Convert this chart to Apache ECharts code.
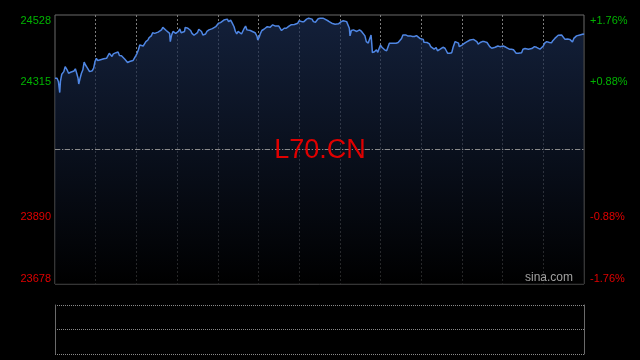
<!DOCTYPE html>
<html>
<head>
<meta charset="utf-8">
<script src="https://cdn.jsdelivr.net/npm/echarts@6/dist/echarts.min.js"></script>
<style>html,body{margin:0;padding:0;background:#000;}#c{width:640px;height:360px;}</style>
</head>
<body>
<div id="c"></div>
<script>
const symbolName = 'L70.CN';
const prevClose = 24103;
const yMin = 23678, yMax = 24528;
const leftTickLabels = ['23678', '23890', '', '24315', '24528'];
const rightTickLabels = ['-1.76%', '-0.88%', '', '+0.88%', '+1.76%'];
const minutes = [0,2,3,5,7,8,10,13,15,18,20,23,25,28,30,32,34,35,37,39,41,43,45,47,49,51,53,55,57,59,61,63,66,68,72,76,78,80,82,84,86,88,90,93,95,98,100,103,105,107,110,112,115,117,119,121,123,125,127,130,132,134,137,139,142,144,147,149,152,154,157,159,161,164,166,169,170,172,174,176,178,180,182,184,186,188,191,
192,196,200,202,205,207,210,212,214,216,218,220,222,224,227,229,232,234,237,239,241,243,244,246,249,251,254,256,259,261,264,266,268,270,271,272,275,277,279,281,283,285,288,291,293,295,298,299,301,303,305,308,310,313,315,317,319,321,323,325,327,330,332,334,336,338,341,343,345,348,350,353,355,358,360,362,364,367,369,371,374,376,379,381,384,
388,391,393,395,398,400,403,405,408,410,413,415,418,420,422,425,427,430,432,434,435,437,440,442,445,447,449,452,453,454,457,459,462,463,466,467,468,471,472,474,476,478,480,482,484,486,489,491,493,495,497,500,503,506,508,511,513,515,517,520,522,524,527,530,533,535,538,540,543,544,546,549,552,554,556,559,561,562,564,566,568,570,572,575,577,579,
582,585,587,590,592,595,596,598,600,602,604,607,609,612,614,617,619,622,624,626,627,630,633,635,637,639,641,644,646,649,651,653,656,658,661,662,665,667,670,673,676,678,680,683,685,688,690,693,695,698,700,703,705,707,710,712,715,717,720,722,725,727,729,732,734,737,739,742,744,747,749,752,754,756,759,761,763,765,767,769,771,774,776,779,780];
const prices = [24328,24323,24328,24318,24283,24318,24341,24349,24365,24354,24344,24347,24346,24351,24358,24344,24328,24310,24328,24344,24354,24379,24370,24363,24357,24349,24354,24352,24360,24381,24391,24384,24386,24388,24390,24391,24397,24407,24402,24397,24405,24407,24409,24411,24400,24399,24397,24388,24383,24378,24381,24380,24384,24386,24399,24407,24418,24433,24439,24430,24437,24444,24449,24457,24462,24472,24470,24472,24474,24476,24481,24489,24486,24479,24483,24470,24444,24465,24476,24479,24470,24465,24476,24484,24472,24468,24476,
24489,24486,24479,24470,24464,24462,24472,24483,24486,24476,24465,24460,24468,24476,24481,24479,24485,24489,24491,24491,24502,24497,24504,24510,24512,24512,24515,24507,24512,24504,24491,24476,24468,24476,24481,24470,24468,24472,24486,24493,24481,24479,24479,24476,24476,24472,24460,24449,24458,24470,24479,24483,24489,24491,24497,24489,24493,24497,24500,24493,24497,24493,24486,24479,24483,24486,24486,24491,24493,24497,24500,24498,24499,24502,24510,24515,24507,24507,24510,24515,24518,24518,24515,24507,24505,
24516,24518,24516,24518,24515,24512,24509,24504,24502,24500,24499,24500,24500,24504,24507,24510,24509,24507,24502,24486,24462,24479,24481,24478,24476,24479,24481,24476,24479,24470,24462,24444,24439,24447,24465,24439,24409,24412,24409,24418,24410,24423,24433,24426,24420,24418,24415,24412,24439,24441,24439,24439,24439,24441,24439,24454,24465,24468,24465,24462,24460,24462,24460,24460,24463,24458,24454,24458,24451,24442,24444,24441,24437,24428,24423,24420,24420,24425,24415,24412,24420,24423,24426,24423,24415,24407,
24407,24409,24426,24444,24443,24439,24428,24425,24433,24436,24439,24443,24445,24449,24449,24451,24449,24444,24436,24434,24441,24444,24444,24444,24441,24436,24428,24423,24421,24426,24431,24430,24428,24430,24430,24432,24426,24423,24420,24420,24418,24412,24407,24407,24404,24409,24420,24422,24420,24420,24421,24422,24425,24428,24426,24423,24420,24423,24430,24439,24444,24443,24441,24440,24447,24454,24460,24464,24467,24465,24460,24451,24451,24452,24451,24449,24443,24454,24458,24462,24460,24465,24468,24468,24466];

const priceData = minutes.map((m, i) => [m, prices[i]]);
const upColor = '#00b400', downColor = '#e00000';
const font = 'Liberation Sans, Arial, sans-serif';
const gridDot = '#7c7c7c';

const chart = echarts.init(document.getElementById('c'), null, {renderer: 'canvas'});
chart.setOption({
  backgroundColor: '#000',
  animation: false,
  grid: [
    {left: 55, right: 56, top: 15, height: 269, show: true, borderColor: '#6a6a6a', borderWidth: 1, backgroundColor: 'transparent'},
    {left: 55, right: 56, top: 305, height: 49, show: false}
  ],
  xAxis: [
    {type: 'value', gridIndex: 0, min: 0, max: 780, interval: 60,
     axisLine: {show: false}, axisTick: {show: false}, axisLabel: {show: false},
     splitLine: {show: true, showMinLine: false, showMaxLine: false, lineStyle: {color: gridDot, type: [2, 2], width: 1}}},
    {type: 'value', gridIndex: 1, min: 0, max: 780, interval: 60,
     axisLine: {show: false}, axisTick: {show: false}, axisLabel: {show: false}, splitLine: {show: false}}
  ],
  yAxis: [
    {type: 'value', gridIndex: 0, min: yMin, max: yMax, interval: (yMax - yMin) / 4, position: 'left',
     axisLine: {show: false}, axisTick: {show: false},
     splitLine: {show: true, showMinLine: false, showMaxLine: false, lineStyle: {color: ['transparent', gridDot, 'transparent', gridDot, 'transparent'], type: [2, 2], width: 1}},
     axisLabel: {margin: 4, fontSize: 11, fontFamily: font,
       verticalAlignMinLabel: 'bottom', verticalAlignMaxLabel: 'top',
       formatter: (v, i) => leftTickLabels[i],
       color: (v, i) => (v > prevClose ? upColor : downColor)}},
    {type: 'value', gridIndex: 0, min: yMin, max: yMax, interval: (yMax - yMin) / 4, position: 'right',
     axisLine: {show: false}, axisTick: {show: false}, splitLine: {show: false},
     axisLabel: {margin: 6, fontSize: 11, fontFamily: font,
       verticalAlignMinLabel: 'bottom', verticalAlignMaxLabel: 'top',
       formatter: (v, i) => rightTickLabels[i],
       color: (v, i) => (v > prevClose ? upColor : downColor)}},
    {type: 'value', gridIndex: 1, min: 0, max: 2, interval: 1, position: 'left',
     axisLine: {show: true, lineStyle: {color: '#6a6a6a'}}, axisTick: {show: false}, axisLabel: {show: false},
     splitLine: {show: true, lineStyle: {color: '#8a8a8a', type: [1, 1]}}},
    {type: 'value', gridIndex: 1, min: 0, max: 2, interval: 1, position: 'right',
     axisLine: {show: true, lineStyle: {color: '#6a6a6a'}}, axisTick: {show: false}, axisLabel: {show: false},
     splitLine: {show: false}}
  ],
  series: [{
    type: 'line', xAxisIndex: 0, yAxisIndex: 0, data: priceData,
    showSymbol: false, symbol: 'none',
    lineStyle: {color: '#4f86e3', width: 1.5},
    areaStyle: {origin: 'start', color: new echarts.graphic.LinearGradient(0, 0, 0, 1, [
      {offset: 0, color: '#1b2d52'}, {offset: 1, color: '#000000'}])},
    markLine: {silent: true, symbol: 'none', label: {show: false},
      lineStyle: {color: '#8a8a8a', type: [5, 2, 1, 2], width: 1},
      data: [{yAxis: prevClose}]}
  }],
  graphic: [
    {type: 'text', left: 'center', top: 137, z: 10,
     style: {text: symbolName, fill: '#e00000', font: '27px ' + font}},
    {type: 'text', right: 67, top: 272, z: 10,
     style: {text: 'sina.com', fill: '#a0a0a0', font: '12px ' + font}}
  ]
});
</script>
</body>
</html>
